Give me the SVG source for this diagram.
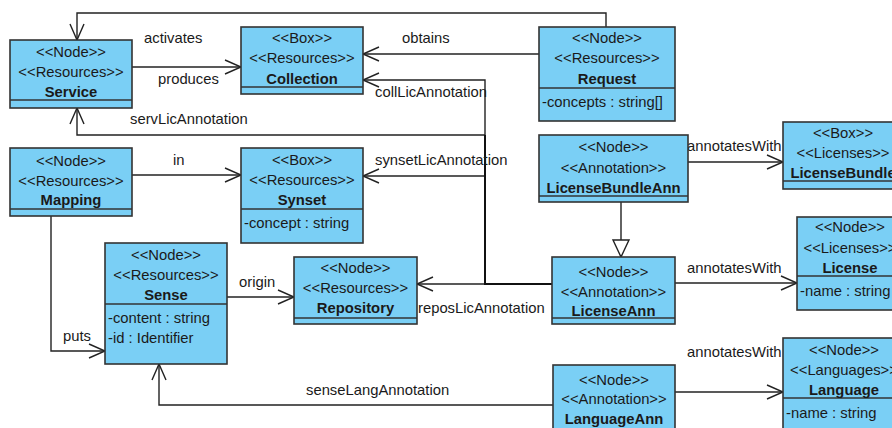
<svg xmlns="http://www.w3.org/2000/svg" width="892" height="428" viewBox="0 0 892 428">
<defs>
<style>
text{font-family:"Liberation Sans",Arial,sans-serif;font-size:14.8px;fill:#1a1a1a}
.c{text-anchor:middle}
.b{font-weight:bold}
.box{fill:#7acff5;stroke:#333;stroke-width:1.6}
.sep{stroke:#333;stroke-width:1.6}
.ln{fill:none;stroke:#222;stroke-width:1.4}
.trunk{fill:none;stroke:#111;stroke-width:2}
</style>
<marker id="open" markerUnits="userSpaceOnUse" markerWidth="20" markerHeight="18" viewBox="-18 -9 20 18" refX="0" refY="0" orient="auto">
<path d="M-16,-7 L0,0 L-16,7" fill="none" stroke="#222" stroke-width="1.4"/>
</marker>
<marker id="tri" markerUnits="userSpaceOnUse" markerWidth="22" markerHeight="20" viewBox="-19 -10 21 20" refX="0" refY="0" orient="auto">
<path d="M-17,-8 L0,0 L-17,8 Z" fill="#fff" stroke="#222" stroke-width="1.4"/>
</marker>
</defs>
<rect width="892" height="428" fill="#fff"/>

<g id="connectors">
<path class="ln" d="M606,27 V13 H77 V40" marker-end="url(#open)"/>
<path class="ln" d="M132,67 H241" marker-end="url(#open)"/>
<path class="ln" d="M539,54 H363" marker-end="url(#open)"/>
<path class="ln" d="M485,284 V80 H363" marker-end="url(#open)"/>
<path class="ln" d="M485,135 H77 V108" marker-end="url(#open)"/>
<path class="ln" d="M485,176 H363" marker-end="url(#open)"/>
<path class="ln" d="M553,284 H417" marker-end="url(#open)"/>
<path class="trunk" d="M485,135 V284 H553"/>
<path class="ln" d="M132,175 H241" marker-end="url(#open)"/>
<path class="ln" d="M51,216 V351 H105" marker-end="url(#open)"/>
<path class="ln" d="M227,297 H294" marker-end="url(#open)"/>
<path class="ln" d="M553,405 H159 V364" marker-end="url(#open)"/>
<path class="ln" d="M688,162 H783" marker-end="url(#open)"/>
<path class="ln" d="M621,202 V257" marker-end="url(#tri)"/>
<path class="ln" d="M675,283 H797" marker-end="url(#open)"/>
<path class="ln" d="M675,392 H783" marker-end="url(#open)"/>
<text x="144" y="43">activates</text>
<text x="158" y="84">produces</text>
<text x="402" y="43">obtains</text>
<text x="375" y="97">collLicAnnotation</text>
<text x="130" y="124">servLicAnnotation</text>
<text x="173" y="165">in</text>
<text x="375" y="165">synsetLicAnnotation</text>
<text x="239" y="287">origin</text>
<text x="418" y="313">reposLicAnnotation</text>
<text x="63" y="341">puts</text>
<text x="306" y="395">senseLangAnnotation</text>
<text x="687" y="151">annotatesWith</text>
<text x="687" y="273">annotatesWith</text>
<text x="687" y="357">annotatesWith</text>
</g>

<g id="service">
<rect class="box" x="10" y="40" width="122" height="68"/>
<line class="sep" x1="10" y1="100" x2="132" y2="100"/>
<text class="c" x="71" y="57">&lt;&lt;Node&gt;&gt;</text>
<text class="c" x="71" y="77">&lt;&lt;Resources&gt;&gt;</text>
<text class="c b" x="71" y="97">Service</text>
</g>

<g id="collection">
<rect class="box" x="241" y="27" width="122" height="67"/>
<line class="sep" x1="241" y1="87" x2="363" y2="87"/>
<text class="c" x="302" y="43">&lt;&lt;Box&gt;&gt;</text>
<text class="c" x="302" y="63">&lt;&lt;Resources&gt;&gt;</text>
<text class="c b" x="302" y="84">Collection</text>
</g>

<g id="request">
<rect class="box" x="539" y="27" width="136" height="94"/>
<line class="sep" x1="539" y1="88" x2="675" y2="88"/>
<text class="c" x="607" y="43">&lt;&lt;Node&gt;&gt;</text>
<text class="c" x="607" y="63">&lt;&lt;Resources&gt;&gt;</text>
<text class="c b" x="607" y="84">Request</text>
<text x="542" y="107">-concepts : string[]</text>
</g>

<g id="mapping">
<rect class="box" x="10" y="148" width="122" height="68"/>
<line class="sep" x1="10" y1="209" x2="132" y2="209"/>
<text class="c" x="71" y="166">&lt;&lt;Node&gt;&gt;</text>
<text class="c" x="71" y="186">&lt;&lt;Resources&gt;&gt;</text>
<text class="c b" x="71" y="205">Mapping</text>
</g>

<g id="synset">
<rect class="box" x="241" y="148" width="122" height="95"/>
<line class="sep" x1="241" y1="209" x2="363" y2="209"/>
<text class="c" x="302" y="165">&lt;&lt;Box&gt;&gt;</text>
<text class="c" x="302" y="185">&lt;&lt;Resources&gt;&gt;</text>
<text class="c b" x="302" y="205">Synset</text>
<text x="244" y="228">-concept : string</text>
</g>

<g id="sense">
<rect class="box" x="105" y="243" width="122" height="121"/>
<line class="sep" x1="105" y1="304" x2="227" y2="304"/>
<text class="c" x="166" y="260">&lt;&lt;Node&gt;&gt;</text>
<text class="c" x="166" y="280">&lt;&lt;Resources&gt;&gt;</text>
<text class="c b" x="166" y="300">Sense</text>
<text x="108" y="323">-content : string</text>
<text x="108" y="343">-id : Identifier</text>
</g>

<g id="repository">
<rect class="box" x="294" y="257" width="123" height="67"/>
<line class="sep" x1="294" y1="318" x2="417" y2="318"/>
<text class="c" x="355.5" y="273">&lt;&lt;Node&gt;&gt;</text>
<text class="c" x="355.5" y="293">&lt;&lt;Resources&gt;&gt;</text>
<text class="c b" x="355.5" y="313">Repository</text>
</g>

<g id="licenseBundleAnn">
<rect class="box" x="539" y="135" width="149" height="67"/>
<line class="sep" x1="539" y1="196" x2="688" y2="196"/>
<text class="c" x="613.5" y="152">&lt;&lt;Node&gt;&gt;</text>
<text class="c" x="613.5" y="173">&lt;&lt;Annotation&gt;&gt;</text>
<text class="c b" x="613.5" y="193">LicenseBundleAnn</text>
</g>

<g id="licenseBundle">
<rect class="box" x="783" y="122" width="120" height="67"/>
<line class="sep" x1="783" y1="181" x2="903" y2="181"/>
<text class="c" x="843" y="138">&lt;&lt;Box&gt;&gt;</text>
<text class="c" x="843" y="158">&lt;&lt;Licenses&gt;&gt;</text>
<text class="c b" x="843" y="178">LicenseBundle</text>
</g>

<g id="licenseAnn">
<rect class="box" x="552" y="257" width="123" height="67"/>
<line class="sep" x1="552" y1="318" x2="675" y2="318"/>
<text class="c" x="613.5" y="277">&lt;&lt;Node&gt;&gt;</text>
<text class="c" x="613.5" y="297">&lt;&lt;Annotation&gt;&gt;</text>
<text class="c b" x="613.5" y="316">LicenseAnn</text>
</g>

<g id="license">
<rect class="box" x="797" y="217" width="106" height="93"/>
<line class="sep" x1="797" y1="276" x2="903" y2="276"/>
<text class="c" x="850" y="232">&lt;&lt;Node&gt;&gt;</text>
<text class="c" x="850" y="253">&lt;&lt;Licenses&gt;&gt;</text>
<text class="c b" x="850" y="273">License</text>
<text x="800" y="296">-name : string</text>
</g>

<g id="languageAnn">
<rect class="box" x="553" y="365" width="122" height="70"/>
<text class="c" x="614" y="385">&lt;&lt;Node&gt;&gt;</text>
<text class="c" x="614" y="404">&lt;&lt;Annotation&gt;&gt;</text>
<text class="c b" x="614" y="424">LanguageAnn</text>
</g>

<g id="language">
<rect class="box" x="783" y="338" width="122" height="100"/>
<line class="sep" x1="783" y1="398" x2="905" y2="398"/>
<text class="c" x="844" y="355">&lt;&lt;Node&gt;&gt;</text>
<text class="c" x="844" y="375">&lt;&lt;Languages&gt;&gt;</text>
<text class="c b" x="844" y="395">Language</text>
<text x="786" y="418">-name : string</text>
</g>
</svg>
